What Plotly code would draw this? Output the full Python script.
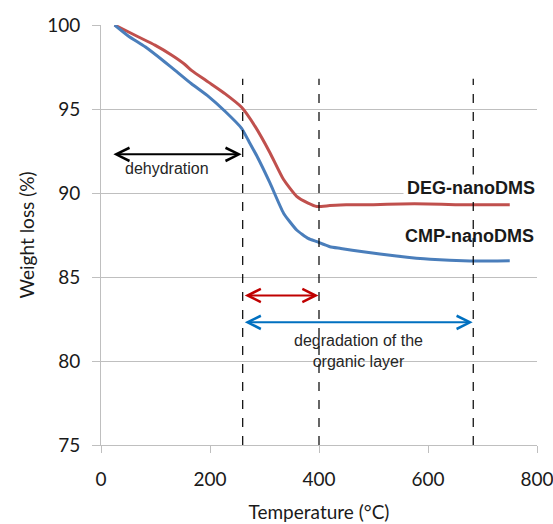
import plotly.graph_objects as go

# Data
deg_x = [25, 68, 99, 130, 154, 166, 197, 228, 258, 283, 310, 335, 359, 380, 396, 420, 450, 500, 550, 600, 650, 700, 750]
deg_y = [100, 99.3, 98.8, 98.2, 97.65, 97.3, 96.6, 95.9, 95.1, 93.95, 92.4, 90.8, 89.8, 89.4, 89.2, 89.25, 89.3, 89.3, 89.35, 89.35, 89.3, 89.3, 89.3]
cmp_x = [25, 50, 81, 117, 136, 166, 197, 228, 258, 270, 286, 310, 335, 359, 380, 396, 420, 440, 481, 542, 604, 677, 750]
cmp_y = [100, 99.35, 98.7, 97.8, 97.3, 96.5, 95.75, 94.85, 93.85, 93.15, 92.2, 90.6, 88.8, 87.8, 87.3, 87.1, 86.8, 86.7, 86.5, 86.25, 86.05, 85.95, 85.97]

vline_x = [260, 400, 683]
vline_top = 96.8

x_ticks = [0, 200, 400, 600, 800]
y_ticks = [75, 80, 85, 90, 95, 100]

deg_color = "#C0504D"
cmp_color = "#4A7EBB"

fig = go.Figure()
fig.add_trace(go.Scatter(x=deg_x, y=deg_y, mode="lines", name="DEG-nanoDMS",
                         line=dict(color=deg_color, width=3, shape="spline", smoothing=0.5)))
fig.add_trace(go.Scatter(x=cmp_x, y=cmp_y, mode="lines", name="CMP-nanoDMS",
                         line=dict(color=cmp_color, width=3, shape="spline", smoothing=0.5)))

for xv in vline_x:
    fig.add_shape(type="line", x0=xv, x1=xv, y0=75, y1=vline_top, xref="x", yref="y",
                  line=dict(color="black", width=1.2, dash="dash"))

# Double-headed arrows: (x_start, x_end, y, color)
arrows = [
    (20, 258, 92.3, "black"),
    (261, 399, 83.9, "#C00000"),
    (261, 682, 82.3, "#0070C0"),
]
for xs, xe, yv, col in arrows:
    fig.add_annotation(x=xe, y=yv, ax=xs, ay=yv, xref="x", yref="y", axref="x", ayref="y",
                       text="", showarrow=True, arrowside="end+start",
                       arrowhead=5, startarrowhead=5, arrowsize=1.3, startarrowsize=1.3,
                       arrowwidth=2, arrowcolor=col, standoff=0, startstandoff=0)

ann_font = dict(family="Liberation Sans, Arial, sans-serif", size=16, color="#262626")
fig.add_annotation(x=122, y=91.45, xref="x", yref="y", text="dehydration", showarrow=False, font=ann_font)
fig.add_annotation(x=472, y=80.6, xref="x", yref="y", text="degradation of the<br>organic layer",
                   showarrow=False, font=ann_font, align="center")
lbl_font = dict(family="Liberation Sans, Arial, sans-serif", size=18, color="#1a1a1a")
fig.add_annotation(x=678, y=90.3, xref="x", yref="y", text="<b>DEG-nanoDMS</b>", showarrow=False,
                   font=lbl_font, bgcolor="white", borderpad=3)
fig.add_annotation(x=676, y=87.45, xref="x", yref="y", text="<b>CMP-nanoDMS</b>", showarrow=False,
                   font=lbl_font)

axis_font = dict(family="Lato, sans-serif", size=19, color="#1a1a1a")
grid_col = "#BFBFBF"
fig.update_xaxes(range=[0, 800], tickvals=x_ticks, showgrid=False, zeroline=False,
                 showline=True, linecolor=grid_col, linewidth=1, automargin=False,
                 ticks="outside", ticklen=7, tickcolor=grid_col, tickfont=axis_font,
                 ticklabelstandoff=10, ticklabeloverflow="allow",
                 title=dict(text="Temperature (°C)", font=axis_font, standoff=16))
fig.update_yaxes(range=[75, 100], tickvals=y_ticks, showgrid=True, gridcolor=grid_col, gridwidth=1,
                 zeroline=False, showline=True, linecolor=grid_col, linewidth=1, automargin=False,
                 ticks="outside", ticklen=8, tickcolor=grid_col, tickfont=axis_font,
                 ticklabelstandoff=8, ticklabeloverflow="allow",
                 title=dict(text="Weight loss (%)", font=axis_font, standoff=7))

fig.update_layout(width=553, height=524, margin=dict(l=101, r=16, t=25, b=79),
                  plot_bgcolor="white", paper_bgcolor="white", showlegend=False)

fig.write_html("out.html", config={"displayModeBar": False},
               post_script="document.body.style.margin='0';")
